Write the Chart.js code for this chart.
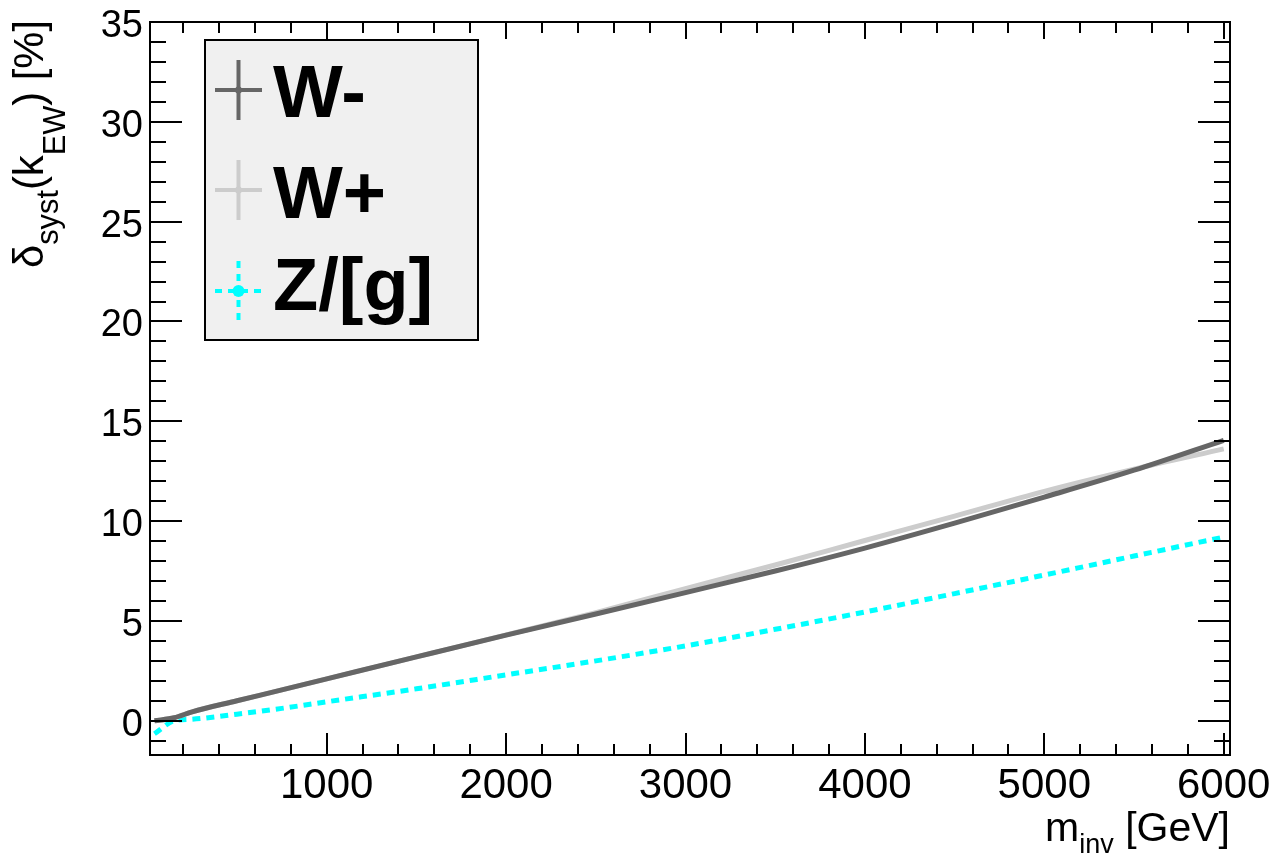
<!DOCTYPE html>
<html><head><meta charset="utf-8">
<script src="https://cdn.jsdelivr.net/npm/chart.js@4"></script>
<style>html,body{margin:0;padding:0;background:#fff;overflow:hidden}canvas{display:block}</style>
</head><body>
<canvas id="c" width="1276" height="855"></canvas>
<script>
const massGeV = [40,150,250,500,750,1000,1500,2000,2500,3000,3500,4000,4500,5000,5500,6000];
const wMinus  = [0.0,0.15,0.45,1.0,1.55,2.1,3.2,4.29,5.35,6.42,7.5,8.65,9.9,11.2,12.55,14.05];
const wPlus   = [0.0,0.15,0.45,1.0,1.55,2.1,3.2,4.3,5.42,6.62,7.8,9.03,10.25,11.49,12.6,13.62];
const zGamma  = [-0.65,0.0,0.08,0.33,0.62,0.95,1.6,2.3,3.0,3.75,4.58,5.45,6.37,7.3,8.25,9.2];
const seriesNames = ['W-','W+','Z/[g]'];
const seriesColors = ['#666666','#cccccc','#00ffff'];
const xTicks = [1000,2000,3000,4000,5000,6000];
const yTicks = [0,5,10,15,20,25,30,35];

const FAM = '"Liberation Sans", Arial, Helvetica, sans-serif';
const font = (w, s) => `${w} ${s}px ${FAM}`;

function drawSegments(ctx, segs) {
  let xpos = 0;
  for (const [t, f, dy] of segs) {
    ctx.font = f;
    ctx.fillText(t, xpos, dy);
    xpos += ctx.measureText(t).width;
  }
  return xpos;
}
function measureSegments(ctx, segs) {
  let w = 0;
  for (const [t, f] of segs) { ctx.font = f; w += ctx.measureText(t).width; }
  return w;
}

const framePlugin = {
  id: 'rootFrame',
  afterDraw(chart) {
    const {ctx, chartArea: a, scales: {x, y}} = chart;
    ctx.save();
    ctx.strokeStyle = '#000';
    ctx.fillStyle = '#000';
    ctx.lineWidth = 2;
    ctx.strokeRect(a.left, a.top, a.right - a.left, a.bottom - a.top);
    ctx.beginPath();
    for (let v = Math.ceil(y.min); v <= y.max; v++) {
      const py = Math.round(y.getPixelForValue(v));
      const len = yTicks.includes(v) ? 32 : 16;
      ctx.moveTo(a.left, py); ctx.lineTo(a.left + len, py);
      ctx.moveTo(a.right, py); ctx.lineTo(a.right - len, py);
    }
    for (let v = 200; v <= x.max; v += 200) {
      const px = Math.round(x.getPixelForValue(v));
      if (px <= a.left) continue;
      const major = xTicks.includes(v);
      ctx.moveTo(px, a.bottom); ctx.lineTo(px, a.bottom - (major ? 22 : 11));
      ctx.moveTo(px, a.top); ctx.lineTo(px, a.top + (major ? 17 : 11));
    }
    ctx.stroke();

    // tick labels
    ctx.font = font('normal', 38);
    ctx.textAlign = 'right';
    ctx.textBaseline = 'alphabetic';
    for (const v of yTicks) {
      ctx.fillText(String(v), 143, y.getPixelForValue(v) + 15);
    }
    ctx.font = font('normal', 42);
    ctx.textAlign = 'center';
    for (const v of xTicks) {
      ctx.fillText(String(v), x.getPixelForValue(v), 798);
    }

    // y title (rotated)
    ctx.textAlign = 'left';
    const ySegs = [['δ', font('normal', 42), 0], ['syst', font('normal', 31), 15], ['(', font('normal', 42), 0],
                   ['k', font('normal', 42), 0], ['EW', font('normal', 31), 22], [')', font('normal', 42), 0],
                   [' [%]', font('normal', 42), 0]];
    const yw = measureSegments(ctx, ySegs);
    ctx.save();
    ctx.translate(43, 268);
    ctx.rotate(-Math.PI / 2);
    ctx.scale(248 / yw, 1);
    drawSegments(ctx, ySegs);
    ctx.restore();

    // x title
    const xSegs = [['m', font('normal', 41), 0], ['inv', font('normal', 27), 12], [' [GeV]', font('normal', 41), 0]];
    const xw = measureSegments(ctx, xSegs);
    ctx.save();
    ctx.translate(1230 - xw, 841);
    drawSegments(ctx, xSegs);
    ctx.restore();

    // legend
    ctx.fillStyle = '#f0f0f0';
    ctx.fillRect(205, 40, 273, 300);
    ctx.strokeStyle = '#000';
    ctx.lineWidth = 2;
    ctx.strokeRect(205, 40, 273, 300);
    const rows = [90, 190, 291];
    const base = [117, 218, 310];
    chart.data.datasets.forEach((ds, i) => {
      const cy = rows[i];
      ctx.strokeStyle = ds.borderColor;
      ctx.fillStyle = ds.borderColor;
      ctx.lineWidth = 4;
      ctx.setLineDash(ds.borderDash ? [7, 6] : []);
      ctx.beginPath();
      ctx.moveTo(215, cy); ctx.lineTo(262, cy);
      ctx.moveTo(238.5, cy - 30); ctx.lineTo(238.5, cy + 30);
      ctx.stroke();
      ctx.setLineDash([]);
      ctx.beginPath();
      ctx.arc(238.5, cy, ds.borderDash ? 6 : 3.5, 0, Math.PI * 2);
      ctx.fill();
      ctx.fillStyle = '#000';
      ctx.font = font('bold', 74);
      ctx.textAlign = 'left';
      ctx.fillText(ds.label, 273, base[i]);
    });
    ctx.restore();
  }
};

const mk = (vals) => massGeV.map((m, i) => ({x: m, y: vals[i]}));

new Chart(document.getElementById('c'), {
  type: 'line',
  data: {
    datasets: [
      {label: seriesNames[0], data: mk(wMinus), borderColor: seriesColors[0], borderWidth: 5, pointRadius: 0, cubicInterpolationMode: 'monotone', fill: false},
      {label: seriesNames[1], data: mk(wPlus), borderColor: seriesColors[1], borderWidth: 5, pointRadius: 0, cubicInterpolationMode: 'monotone', fill: false},
      {label: seriesNames[2], data: mk(zGamma), borderColor: seriesColors[2], borderWidth: 5, borderDash: [8, 6], borderCapStyle: 'butt', pointRadius: 0, cubicInterpolationMode: 'monotone', fill: false}
    ]
  },
  options: {
    responsive: false,
    animation: false,
    devicePixelRatio: 1,
    events: [],
    layout: {padding: {left: 150, top: 22, right: 46, bottom: 100}},
    scales: {
      x: {type: 'linear', min: 15, max: 6035, display: false},
      y: {type: 'linear', min: -1.715, max: 35, display: false}
    },
    plugins: {legend: {display: false}, tooltip: {enabled: false}}
  },
  plugins: [framePlugin]
});
</script>
</body></html>
